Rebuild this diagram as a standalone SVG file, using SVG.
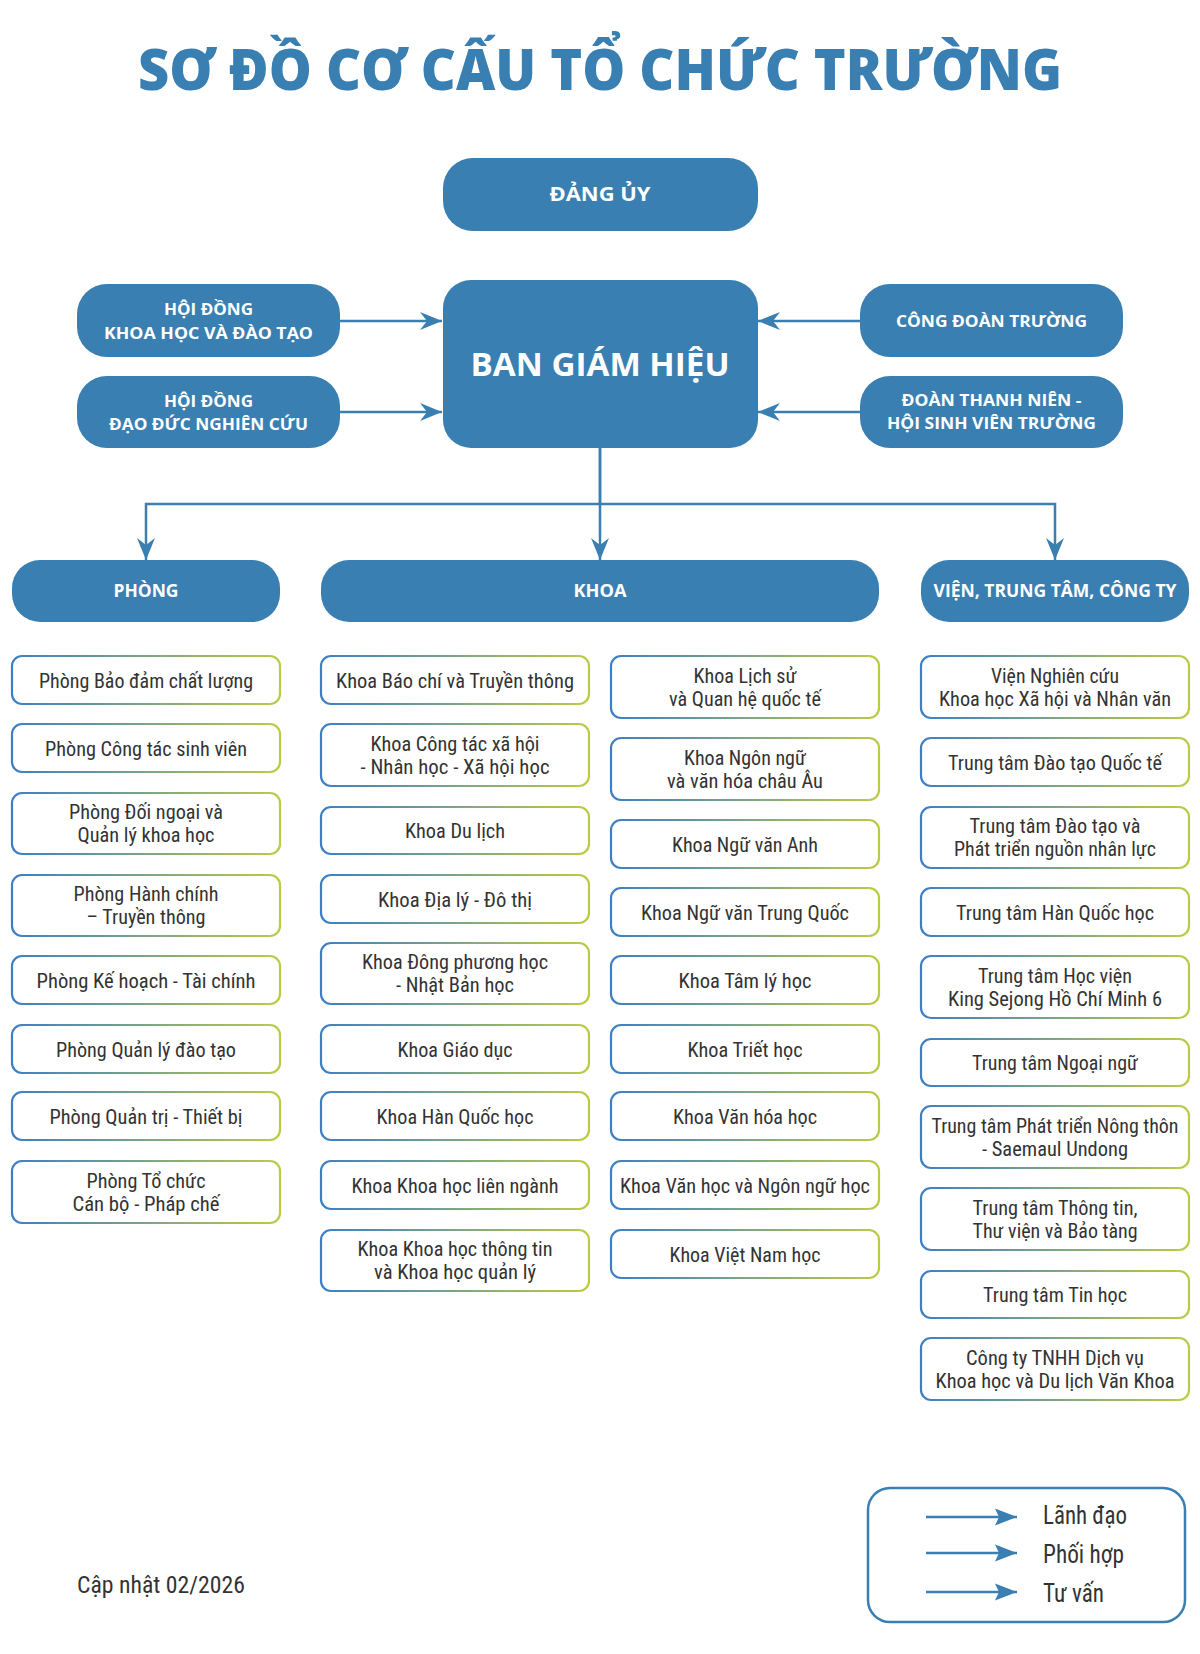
<svg xmlns="http://www.w3.org/2000/svg" width="1200" height="1654" viewBox="0 0 1200 1654">
<style>
.hb{fill:#3a7fb1}
.wt{fill:#fff;font-family:"Open Sans","Lato","DejaVu Sans",sans-serif;font-weight:700;text-anchor:middle}
.bx{fill:#fff;stroke:url(#gs);stroke-width:2.2}
.lb{fill:#333;font-family:"Liberation Sans Narrow","Roboto Condensed","DejaVu Sans Condensed","Liberation Sans",sans-serif;font-size:21px;text-anchor:middle}
.cn{fill:none;stroke:#3a7fb1;stroke-width:2.5}
.lg{fill:#333;font-family:"Liberation Sans Narrow","Roboto Condensed","DejaVu Sans Condensed","Liberation Sans",sans-serif;font-size:25px}
</style>
<defs>
<linearGradient id="gs" x1="0" y1="0" x2="1" y2="0">
<stop offset="0" stop-color="#3d7fc5"/>
<stop offset="1" stop-color="#bccb45"/>
</linearGradient>
<marker id="ah" markerUnits="userSpaceOnUse" markerWidth="22" markerHeight="18" viewBox="0 0 22 18" refX="22" refY="9" orient="auto">
<path d="M0,0 L22,9 L0,18 L7,9 Z" fill="#3a7fb1"/>
</marker>
<marker id="al" markerUnits="userSpaceOnUse" markerWidth="22" markerHeight="18" viewBox="0 0 22 18" refX="22" refY="9" orient="auto">
<path d="M0,0.5 L22,9 L0,17.5 L4,9 Z" fill="#3a7fb1"/>
</marker>
</defs>
<rect width="1200" height="1654" fill="#fff"/>

<text x="600" y="90" fill="#3a7fb1" font-family="'Open Sans','Lato','DejaVu Sans',sans-serif" font-weight="800" font-size="56" text-anchor="middle" textLength="924" lengthAdjust="spacingAndGlyphs">SƠ ĐỒ CƠ CẤU TỔ CHỨC TRƯỜNG</text>

<g id="connectors">
<line class="cn" x1="340" y1="321" x2="442" y2="321" marker-end="url(#ah)"/>
<line class="cn" x1="340" y1="412" x2="442" y2="412" marker-end="url(#ah)"/>
<line class="cn" x1="860" y1="321" x2="758" y2="321" marker-end="url(#ah)"/>
<line class="cn" x1="860" y1="412" x2="758" y2="412" marker-end="url(#ah)"/>
<path class="cn" d="M600,448 V504 H146 V560" marker-end="url(#ah)"/>
<path class="cn" d="M600,448 V560" marker-end="url(#ah)"/>
<path class="cn" d="M600,504 H1055 V560" marker-end="url(#ah)"/>
</g>

<g id="dang-uy"><rect class="hb" x="443" y="158" width="315" height="73" rx="30"/><text class="wt" x="600" y="201" font-size="19" textLength="101" lengthAdjust="spacingAndGlyphs">ĐẢNG ỦY</text></g>
<g id="ban-giam-hieu"><rect class="hb" x="443" y="280" width="315" height="168" rx="28"/><text class="wt" x="600" y="376" font-size="32" textLength="259" lengthAdjust="spacingAndGlyphs">BAN GIÁM HIỆU</text></g>
<g id="hd-khdt"><rect class="hb" x="77" y="284" width="263" height="73" rx="30"/><text class="wt" x="208.5" y="315" font-size="16.5" textLength="89" lengthAdjust="spacingAndGlyphs">HỘI ĐỒNG</text><text class="wt" x="208.5" y="339" font-size="16.5" textLength="209" lengthAdjust="spacingAndGlyphs">KHOA HỌC VÀ ĐÀO TẠO</text></g>
<g id="hd-ddnc"><rect class="hb" x="77" y="376" width="263" height="72" rx="30"/><text class="wt" x="208.5" y="407" font-size="16.5" textLength="89" lengthAdjust="spacingAndGlyphs">HỘI ĐỒNG</text><text class="wt" x="208.5" y="430" font-size="16.5" textLength="199" lengthAdjust="spacingAndGlyphs">ĐẠO ĐỨC NGHIÊN CỨU</text></g>
<g id="cong-doan"><rect class="hb" x="860" y="284" width="263" height="73" rx="30"/><text class="wt" x="991.5" y="327" font-size="16.5" textLength="191" lengthAdjust="spacingAndGlyphs">CÔNG ĐOÀN TRƯỜNG</text></g>
<g id="doan-thanh-nien"><rect class="hb" x="860" y="376" width="263" height="72" rx="30"/><text class="wt" x="991.5" y="406" font-size="16.5" textLength="180" lengthAdjust="spacingAndGlyphs">ĐOÀN THANH NIÊN -</text><text class="wt" x="991.5" y="429" font-size="16.5" textLength="209" lengthAdjust="spacingAndGlyphs">HỘI SINH VIÊN TRƯỜNG</text></g>

<g id="phong"><rect class="hb" x="12" y="560" width="268" height="62" rx="28"/><text class="wt" x="146" y="597" font-size="17" textLength="65" lengthAdjust="spacingAndGlyphs">PHÒNG</text></g>
<g id="khoa"><rect class="hb" x="321" y="560" width="558" height="62" rx="28"/><text class="wt" x="600" y="597" font-size="17" textLength="53" lengthAdjust="spacingAndGlyphs">KHOA</text></g>
<g id="vien"><rect class="hb" x="921" y="560" width="268" height="62" rx="28"/><text class="wt" x="1055" y="597" font-size="17" textLength="243" lengthAdjust="spacingAndGlyphs">VIỆN, TRUNG TÂM, CÔNG TY</text></g>

<!-- Column PHÒNG -->
<g id="p1"><rect class="bx" x="12" y="656" width="268" height="48" rx="10"/><text class="lb" x="146" y="687.5" textLength="214" lengthAdjust="spacingAndGlyphs">Phòng Bảo đảm chất lượng</text></g>
<g id="p2"><rect class="bx" x="12" y="724" width="268" height="48" rx="10"/><text class="lb" x="146" y="755.5" textLength="202" lengthAdjust="spacingAndGlyphs">Phòng Công tác sinh viên</text></g>
<g id="p3"><rect class="bx" x="12" y="793" width="268" height="61" rx="10"/><text class="lb" x="146" y="819" textLength="154" lengthAdjust="spacingAndGlyphs">Phòng Đối ngoại và</text><text class="lb" x="146" y="842" textLength="137" lengthAdjust="spacingAndGlyphs">Quản lý khoa học</text></g>
<g id="p4"><rect class="bx" x="12" y="875" width="268" height="61" rx="10"/><text class="lb" x="146" y="901" textLength="145" lengthAdjust="spacingAndGlyphs">Phòng Hành chính</text><text class="lb" x="146" y="924" textLength="119" lengthAdjust="spacingAndGlyphs">– Truyền thông</text></g>
<g id="p5"><rect class="bx" x="12" y="956" width="268" height="48" rx="10"/><text class="lb" x="146" y="987.5" textLength="219" lengthAdjust="spacingAndGlyphs">Phòng Kế hoạch - Tài chính</text></g>
<g id="p6"><rect class="bx" x="12" y="1025" width="268" height="48" rx="10"/><text class="lb" x="146" y="1056.5" textLength="180" lengthAdjust="spacingAndGlyphs">Phòng Quản lý đào tạo</text></g>
<g id="p7"><rect class="bx" x="12" y="1092" width="268" height="48" rx="10"/><text class="lb" x="146" y="1123.5" textLength="193" lengthAdjust="spacingAndGlyphs">Phòng Quản trị - Thiết bị</text></g>
<g id="p8"><rect class="bx" x="12" y="1161" width="268" height="62" rx="10"/><text class="lb" x="146" y="1187.5" textLength="119" lengthAdjust="spacingAndGlyphs">Phòng Tổ chức</text><text class="lb" x="146" y="1210.5" textLength="147" lengthAdjust="spacingAndGlyphs">Cán bộ - Pháp chế</text></g>

<!-- Column KHOA left -->
<g id="k1"><rect class="bx" x="321" y="656" width="268" height="48" rx="10"/><text class="lb" x="455" y="687.5" textLength="238" lengthAdjust="spacingAndGlyphs">Khoa Báo chí và Truyền thông</text></g>
<g id="k2"><rect class="bx" x="321" y="724" width="268" height="62" rx="10"/><text class="lb" x="455" y="750.5" textLength="169" lengthAdjust="spacingAndGlyphs">Khoa Công tác xã hội</text><text class="lb" x="455" y="773.5" textLength="189" lengthAdjust="spacingAndGlyphs">- Nhân học - Xã hội học</text></g>
<g id="k3"><rect class="bx" x="321" y="807" width="268" height="47" rx="10"/><text class="lb" x="455" y="838" textLength="100" lengthAdjust="spacingAndGlyphs">Khoa Du lịch</text></g>
<g id="k4"><rect class="bx" x="321" y="875" width="268" height="48" rx="10"/><text class="lb" x="455" y="906.5" textLength="154" lengthAdjust="spacingAndGlyphs">Khoa Địa lý - Đô thị</text></g>
<g id="k5"><rect class="bx" x="321" y="943" width="268" height="61" rx="10"/><text class="lb" x="455" y="969" textLength="186" lengthAdjust="spacingAndGlyphs">Khoa Đông phương học</text><text class="lb" x="455" y="992" textLength="118" lengthAdjust="spacingAndGlyphs">- Nhật Bản học</text></g>
<g id="k6"><rect class="bx" x="321" y="1025" width="268" height="48" rx="10"/><text class="lb" x="455" y="1056.5" textLength="115" lengthAdjust="spacingAndGlyphs">Khoa Giáo dục</text></g>
<g id="k7"><rect class="bx" x="321" y="1092" width="268" height="48" rx="10"/><text class="lb" x="455" y="1123.5" textLength="157" lengthAdjust="spacingAndGlyphs">Khoa Hàn Quốc học</text></g>
<g id="k8"><rect class="bx" x="321" y="1161" width="268" height="48" rx="10"/><text class="lb" x="455" y="1192.5" textLength="207" lengthAdjust="spacingAndGlyphs">Khoa Khoa học liên ngành</text></g>
<g id="k9"><rect class="bx" x="321" y="1230" width="268" height="61" rx="10"/><text class="lb" x="455" y="1256" textLength="195" lengthAdjust="spacingAndGlyphs">Khoa Khoa học thông tin</text><text class="lb" x="455" y="1279" textLength="162" lengthAdjust="spacingAndGlyphs">và Khoa học quản lý</text></g>

<!-- Column KHOA right -->
<g id="k10"><rect class="bx" x="611" y="656" width="268" height="62" rx="10"/><text class="lb" x="745" y="682.5" textLength="103" lengthAdjust="spacingAndGlyphs">Khoa Lịch sử</text><text class="lb" x="745" y="705.5" textLength="152" lengthAdjust="spacingAndGlyphs">và Quan hệ quốc tế</text></g>
<g id="k11"><rect class="bx" x="611" y="738" width="268" height="62" rx="10"/><text class="lb" x="745" y="764.5" textLength="122" lengthAdjust="spacingAndGlyphs">Khoa Ngôn ngữ</text><text class="lb" x="745" y="787.5" textLength="156" lengthAdjust="spacingAndGlyphs">và văn hóa châu Âu</text></g>
<g id="k12"><rect class="bx" x="611" y="820" width="268" height="48" rx="10"/><text class="lb" x="745" y="851.5" textLength="146" lengthAdjust="spacingAndGlyphs">Khoa Ngữ văn Anh</text></g>
<g id="k13"><rect class="bx" x="611" y="888" width="268" height="48" rx="10"/><text class="lb" x="745" y="919.5" textLength="208" lengthAdjust="spacingAndGlyphs">Khoa Ngữ văn Trung Quốc</text></g>
<g id="k14"><rect class="bx" x="611" y="956" width="268" height="48" rx="10"/><text class="lb" x="745" y="987.5" textLength="133" lengthAdjust="spacingAndGlyphs">Khoa Tâm lý học</text></g>
<g id="k15"><rect class="bx" x="611" y="1025" width="268" height="48" rx="10"/><text class="lb" x="745" y="1056.5" textLength="115" lengthAdjust="spacingAndGlyphs">Khoa Triết học</text></g>
<g id="k16"><rect class="bx" x="611" y="1092" width="268" height="48" rx="10"/><text class="lb" x="745" y="1123.5" textLength="144" lengthAdjust="spacingAndGlyphs">Khoa Văn hóa học</text></g>
<g id="k17"><rect class="bx" x="611" y="1161" width="268" height="48" rx="10"/><text class="lb" x="745" y="1192.5" textLength="250" lengthAdjust="spacingAndGlyphs">Khoa Văn học và Ngôn ngữ học</text></g>
<g id="k18"><rect class="bx" x="611" y="1230" width="268" height="48" rx="10"/><text class="lb" x="745" y="1261.5" textLength="151" lengthAdjust="spacingAndGlyphs">Khoa Việt Nam học</text></g>

<!-- Column VIỆN -->
<g id="v1"><rect class="bx" x="921" y="656" width="268" height="62" rx="10"/><text class="lb" x="1055" y="682.5" textLength="128" lengthAdjust="spacingAndGlyphs">Viện Nghiên cứu</text><text class="lb" x="1055" y="705.5" textLength="232" lengthAdjust="spacingAndGlyphs">Khoa học Xã hội và Nhân văn</text></g>
<g id="v2"><rect class="bx" x="921" y="738" width="268" height="48" rx="10"/><text class="lb" x="1055" y="769.5" textLength="214" lengthAdjust="spacingAndGlyphs">Trung tâm Đào tạo Quốc tế</text></g>
<g id="v3"><rect class="bx" x="921" y="807" width="268" height="61" rx="10"/><text class="lb" x="1055" y="833" textLength="171" lengthAdjust="spacingAndGlyphs">Trung tâm Đào tạo và</text><text class="lb" x="1055" y="856" textLength="202" lengthAdjust="spacingAndGlyphs">Phát triển nguồn nhân lực</text></g>
<g id="v4"><rect class="bx" x="921" y="888" width="268" height="48" rx="10"/><text class="lb" x="1055" y="919.5" textLength="198" lengthAdjust="spacingAndGlyphs">Trung tâm Hàn Quốc học</text></g>
<g id="v5"><rect class="bx" x="921" y="956" width="268" height="62" rx="10"/><text class="lb" x="1055" y="982.5" textLength="154" lengthAdjust="spacingAndGlyphs">Trung tâm Học viện</text><text class="lb" x="1055" y="1005.5" textLength="214" lengthAdjust="spacingAndGlyphs">King Sejong Hồ Chí Minh 6</text></g>
<g id="v6"><rect class="bx" x="921" y="1039" width="268" height="47" rx="10"/><text class="lb" x="1055" y="1070" textLength="166" lengthAdjust="spacingAndGlyphs">Trung tâm Ngoại ngữ</text></g>
<g id="v7"><rect class="bx" x="921" y="1106" width="268" height="62" rx="10"/><text class="lb" x="1055" y="1132.5" textLength="247" lengthAdjust="spacingAndGlyphs">Trung tâm Phát triển Nông thôn</text><text class="lb" x="1055" y="1155.5" textLength="146" lengthAdjust="spacingAndGlyphs">- Saemaul Undong</text></g>
<g id="v8"><rect class="bx" x="921" y="1188" width="268" height="62" rx="10"/><text class="lb" x="1055" y="1214.5" textLength="165" lengthAdjust="spacingAndGlyphs">Trung tâm Thông tin,</text><text class="lb" x="1055" y="1237.5" textLength="165" lengthAdjust="spacingAndGlyphs">Thư viện và Bảo tàng</text></g>
<g id="v9"><rect class="bx" x="921" y="1271" width="268" height="47" rx="10"/><text class="lb" x="1055" y="1302" textLength="144" lengthAdjust="spacingAndGlyphs">Trung tâm Tin học</text></g>
<g id="v10"><rect class="bx" x="921" y="1338" width="268" height="62" rx="10"/><text class="lb" x="1055" y="1364.5" textLength="178" lengthAdjust="spacingAndGlyphs">Công ty TNHH Dịch vụ</text><text class="lb" x="1055" y="1387.5" textLength="239" lengthAdjust="spacingAndGlyphs">Khoa học và Du lịch Văn Khoa</text></g>

<text x="77" y="1593" fill="#333" font-family="'Liberation Sans Narrow','Roboto Condensed','DejaVu Sans Condensed','Liberation Sans',sans-serif" font-size="24" textLength="168" lengthAdjust="spacingAndGlyphs">Cập nhật 02/2026</text>

<g id="legend">
<rect x="868" y="1488" width="317" height="134" rx="22" fill="none" stroke="#3a7fb1" stroke-width="2.5"/>
<line class="cn" x1="926" y1="1517" x2="1017" y2="1517" marker-end="url(#al)"/>
<line class="cn" x1="926" y1="1553" x2="1017" y2="1553" marker-end="url(#al)"/>
<line class="cn" x1="926" y1="1592" x2="1017" y2="1592" marker-end="url(#al)"/>
<text class="lg" x="1043" y="1524" textLength="84" lengthAdjust="spacingAndGlyphs">Lãnh đạo</text>
<text class="lg" x="1043" y="1563" textLength="81" lengthAdjust="spacingAndGlyphs">Phối hợp</text>
<text class="lg" x="1043" y="1602" textLength="61" lengthAdjust="spacingAndGlyphs">Tư vấn</text>
</g>
</svg>
